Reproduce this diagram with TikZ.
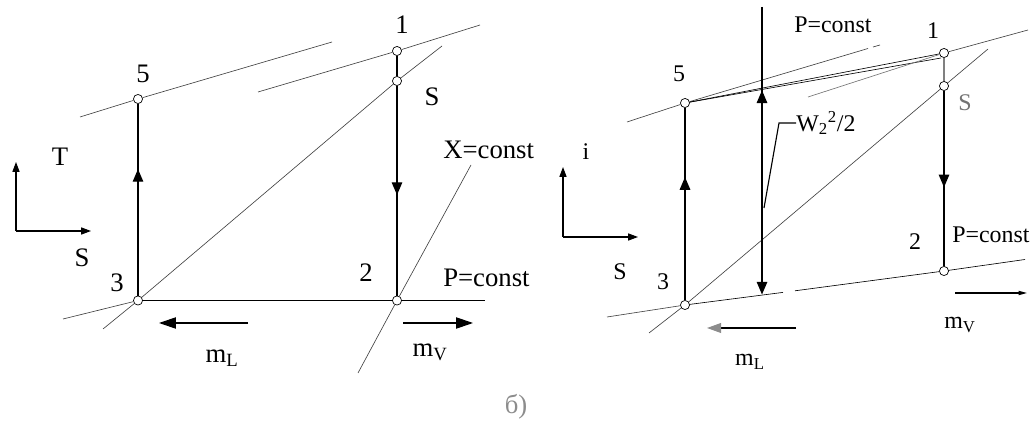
\documentclass[tikz,border=0pt]{standalone}
\usepackage{fontspec}
\setmainfont{Liberation Serif}
\usetikzlibrary{arrows.meta,decorations.markings}

\tikzset{
  pt/.style={circle,draw,fill=white,inner sep=0pt,minimum size=6.5pt,line width=0.5pt},
  thinln/.style={line width=0.45pt,black!75},
  mainln/.style={line width=0.8pt},
  lbl/.style={inner sep=0pt,font=\fontsize{19}{19}\selectfont},
  lblr/.style={inner sep=0pt,font=\fontsize{17}{17}\selectfont},
  midarrow/.style={postaction={decorate},decoration={markings,
      mark=at position #1 with {\arrow{Triangle[length=9pt,width=7.5pt]}}}},
  backarrow/.style={postaction={decorate},decoration={markings,
      mark=at position #1 with {\arrowreversed{Triangle[length=9pt,width=7.5pt]}}}},
}

\begin{document}
\begin{tikzpicture}[x=0.025cm,y=-0.025cm]
  \useasboundingbox (0,0) rectangle (1033,425);

  % ---- T-S diagram (left)
  \node[pt] (l1) at (397,51) {};
  \node[pt] (lS) at (397,81) {};
  \node[pt] (l5) at (138,99) {};
  \node[pt] (l3) at (138,300.5) {};
  \node[pt] (l2) at (397,300.5) {};

  \coordinate (l5a) at (80,117);   \coordinate (l5b) at (332,42);
  \coordinate (l1a) at (258,92);   \coordinate (l1b) at (480,25);
  \coordinate (ldga) at (103,329); \coordinate (ldgb) at (442,46);
  \coordinate (l3a) at (63,319);   \coordinate (lpb) at (485,300.5);
  \coordinate (lxa) at (471,165);  \coordinate (lxb) at (358,373);

  \draw[thinln] (l5a) -- (l5) -- (l5b);
  \draw[thinln] (l1a) -- (l1) -- (l1b);
  \draw[thinln] (ldga) -- (l3) -- (lS) -- (ldgb);
  \draw[thinln] (l3a) -- (l3);
  \draw[thinln] (lxa) -- (l2) -- (lxb);
  \draw[mainln] (l3) -- (l2) -- (lpb);
  \draw[mainln,midarrow=0.66] (l3) -- (l5);
  \draw[mainln] (l1) -- (lS);
  \draw[mainln,midarrow=0.52] (lS) -- (l2);

  % axes
  \coordinate (lo) at (16,231);
  \draw[mainln,-{Triangle[length=7pt,width=5pt]}] (lo) -- (16,162);
  \draw[mainln,-{Triangle[length=7pt,width=5pt]}] (lo) -- (91,231);

  % flow arrows
  \coordinate (mla) at (248,323); \coordinate (mlb) at (159,323);
  \coordinate (mva) at (403,323); \coordinate (mvb) at (473,323);
  \draw[mainln,-{Triangle[length=12pt,width=8pt]}] (mla) -- (mlb);
  \draw[mainln,-{Triangle[length=12pt,width=8pt]}] (mva) -- (mvb);

  \node[lbl] (tl1) at (402,25) {1};
  \node[lbl] (tl5) at (143,74) {5};
  \node[lbl] (tlS) at (432,97) {S};
  \node[lbl] (tl3) at (117,283) {3};
  \node[lbl] (tl2) at (366,273) {2};
  \node[lbl] (tlT) at (60,157) {T};
  \node[lbl] (tlax) at (82,258) {S};
  \node[lbl,anchor=west] (tlx) at (443,150) {X=const};
  \node[lbl,anchor=west] (tlp) at (443,278) {P=const};
  \node[lbl] (tlml) at (222,358) {m\textsubscript{L}};
  \node[lbl] (tlmv) at (430,352) {m\textsubscript{V}};
  \node[lbl,text=black!45] (tcap) at (516,407) {б)};

  % ---- i-S diagram (right)
  \node[pt] (r1) at (944,53) {};
  \node[pt] (rS) at (944,86) {};
  \node[pt] (r5) at (685,103) {};
  \node[pt] (r3) at (685,305) {};
  \node[pt] (r2) at (944,271) {};

  \coordinate (r5a) at (627,122);  \coordinate (r5b) at (868,48.5);
  \coordinate (r5c) at (873,47);   \coordinate (r5d) at (880,45);
  \coordinate (r1n) at (941,58);
  \coordinate (r1a) at (808,97);   \coordinate (r1b) at (1028,30);
  \coordinate (rdga) at (649,333); \coordinate (rdgb) at (988,49);
  \coordinate (r3a) at (607,317);
  \coordinate (rga) at (783,292.4); \coordinate (rgb) at (795,290.8);
  \coordinate (rpb) at (1025,259.5);

  \draw[thinln] (r5a) -- (r5) -- (r5b);
  \draw[thinln] (r5c) -- (r5d);
  \draw[thinln,black] (r5) -- (r1);
  \draw[thinln,black] (r5) -- (r1n);
  \draw[thinln,black!55] (r1a) -- (r1);
  \draw[thinln] (r1) -- (r1b);
  \draw[thinln] (rdga) -- (r3) -- (rS) -- (rdgb);
  \draw[thinln] (r3a) -- (r3);
  \draw[thinln,black] (r3) -- (rga);
  \draw[thinln,black] (rgb) -- (r2) -- (rpb);
  \draw[mainln,midarrow=0.64] (r3) -- (r5);
  \draw[mainln,black!50] (r1) -- (rS);
  \draw[mainln,midarrow=0.55] (rS) -- (r2);

  % kinetic energy
  \coordinate (wtop) at (762,7);
  \coordinate (wbot) at (762,294.5);
  \draw[mainln,backarrow=0.29,-{Triangle[length=9pt,width=7.5pt]}] (wtop) -- (wbot);
  \node[lblr,anchor=west] (tw) at (796,123) {W\textsubscript{2}\textsuperscript{2}/2};
  \coordinate (wl) at (764,208);
  \coordinate (wk) at (779,123);
  \draw[mainln] (wl) -- (wk) -- (tw.west);

  % axes
  \coordinate (ro) at (563,237);
  \draw[mainln,-{Triangle[length=7pt,width=5pt]}] (ro) -- (563,167);
  \draw[mainln,-{Triangle[length=7pt,width=5pt]}] (ro) -- (638,237);

  % flow arrows
  \coordinate (rmla) at (796,328); \coordinate (rmlb) at (707,328);
  \coordinate (rmva) at (955,293); \coordinate (rmvb) at (1027,293);
  \draw[mainln,-{Triangle[length=10pt,width=7pt,color=black!45]}] (rmla) -- (rmlb);
  \draw[mainln,-{Triangle[length=6pt,width=3pt]}] (rmva) -- (rmvb);

  \node[lblr] (tr1) at (933,31) {1};
  \node[lblr] (tr5) at (679,74) {5};
  \node[lblr,text=black!55] (trS) at (965,103) {S};
  \node[lblr] (tr3) at (663,282) {3};
  \node[lblr] (tr2) at (915,242) {2};
  \node[lblr] (tri) at (586,152) {i};
  \node[lblr] (trax) at (620,272) {S};
  \node[lblr,anchor=west] (trpt) at (794,25) {P=const};
  \node[lblr,anchor=west] (trpr) at (952,235) {P=const};
  \node[lblr] (trml) at (750,362) {m\textsubscript{L}};
  \node[lblr] (trmv) at (960,325) {m\textsubscript{V}};
\end{tikzpicture}
\end{document}
